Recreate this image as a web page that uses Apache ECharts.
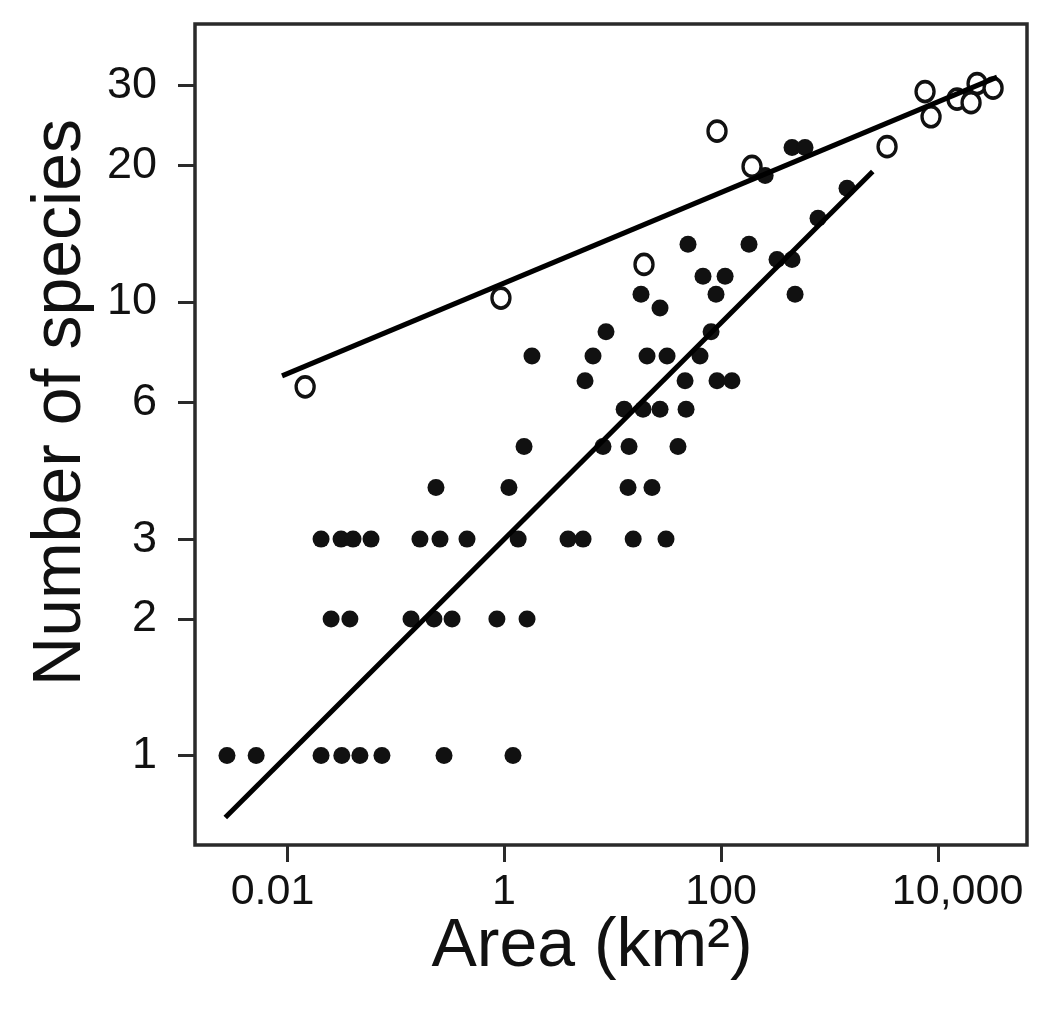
<!DOCTYPE html>
<html>
<head>
<meta charset="utf-8">
<title>Species-area</title>
<script src="https://cdn.jsdelivr.net/npm/echarts@6/dist/echarts.min.js"></script>
<style>
  html, body { margin: 0; padding: 0; background: #fff; }
  #chart { width: 1050px; height: 1010px; }
</style>
</head>
<body>
<div id="chart"></div>
<script>
// filled circles (area km2 / number of species)
var filledArea = [
  0.0028, 0.0052, 0.0206, 0.032, 0.047, 0.075, 0.28, 1.21,
  0.0255, 0.038, 0.139, 0.226, 0.332, 0.86, 1.63,
  0.0206, 0.0315, 0.0406, 0.0595, 0.168, 0.257, 0.456, 1.35, 3.89, 5.35, 15.5, 31.1,
  0.236, 1.11, 13.9, 23.1,
  1.53, 8.17, 14.2, 40.1,
  12.8, 19.1, 27.4, 47.6,
  5.58, 46.6, 91.8, 126,
  1.81, 6.61, 20.8, 31.8, 64,
  8.71, 80.9,
  27.4,
  18.3, 89.9, 481,
  68.2, 109,
  328, 451,
  49.6, 181,
  783, 1449, 255,
  451, 594
];
var filledSpecies = [
  1, 1, 1, 1, 1, 1, 1, 1,
  2, 2, 2, 2, 2, 2, 2,
  3, 3, 3, 3, 3, 3, 3, 3, 3, 3, 3, 3,
  3.9, 3.9, 3.9, 3.9,
  4.8, 4.8, 4.8, 4.8,
  5.8, 5.8, 5.8, 5.8,
  6.7, 6.7, 6.7, 6.7,
  7.6, 7.6, 7.6, 7.6, 7.6,
  8.6, 8.6,
  9.7,
  10.4, 10.4, 10.4,
  11.4, 11.4,
  12.4, 12.4,
  13.4, 13.4,
  15.3, 17.8, 19,
  21.9, 21.9
];
// open circles
var openArea = [0.0147, 0.937, 19.5, 91.8, 193, 3388, 7586, 8616, 14960, 20140, 22870, 32130];
var openSpecies = [6.5, 10.2, 12.1, 23.8, 19.9, 22.0, 29.1, 25.6, 28.0, 27.5, 30.3, 29.6];

// fitted lines (end points)
var upperLineArea = [0.009, 35000];
var upperLineSpecies = [6.87, 31.3];
var lowerLineArea = [0.0027, 2500];
var lowerLineSpecies = [0.73, 19.4];

var xTicks = [0.01, 1, 100, 10000];
var yTicks = [1, 2, 3, 6, 10, 20, 30];

function zip(a, b) {
  return a.map(function (v, i) { return [v, b[i]]; });
}

var font = '"Liberation Sans", Arial, Helvetica, sans-serif';
var chart = echarts.init(document.getElementById('chart'));
chart.setOption({
  animation: false,
  backgroundColor: '#fff',
  grid: {
    left: 195,
    right: 23,
    top: 24,
    bottom: 165,
    show: true,
    borderColor: '#2a2a2a',
    borderWidth: 3.5,
    backgroundColor: 'transparent'
  },
  xAxis: {
    type: 'log',
    logBase: 10,
    min: 0.00142,
    max: 66000,
    name: 'Area (km²)',
    nameLocation: 'middle',
    nameGap: 68,
    nameMoveOverlap: false,
    nameTextStyle: {
      fontSize: 68,
      fontFamily: font,
      color: '#111',
      padding: [0, 38, 0, 0]
    },
    axisLine: { show: false },
    splitLine: { show: false },
    minorTick: { show: false },
    axisTick: {
      show: true,
      length: 17,
      customValues: xTicks,
      lineStyle: { color: '#2a2a2a', width: 3 }
    },
    axisLabel: {
      customValues: xTicks,
      margin: 26,
      fontSize: 43,
      fontFamily: font,
      color: '#111',
      formatter: function (v) {
        if (v < 0.1) return '{l|' + v + '}';
        if (v >= 1000) return '{r|' + v.toLocaleString('en-US') + '}';
        return String(v);
      },
      rich: {
        l: { fontSize: 43, fontFamily: font, color: '#111', padding: [0, 29, 0, 0] },
        r: { fontSize: 43, fontFamily: font, color: '#111', padding: [0, 0, 0, 39] }
      }
    }
  },
  yAxis: {
    type: 'log',
    logBase: 10,
    min: 0.635,
    max: 41,
    name: 'Number of species',
    nameLocation: 'middle',
    nameGap: 100,
    nameMoveOverlap: false,
    nameTextStyle: {
      fontSize: 68,
      fontFamily: font,
      color: '#111',
      padding: [0, 0, 0, 64]
    },
    axisLine: { show: false },
    splitLine: { show: false },
    minorTick: { show: false },
    axisTick: {
      show: true,
      length: 17,
      customValues: yTicks,
      lineStyle: { color: '#2a2a2a', width: 3 }
    },
    axisLabel: {
      customValues: yTicks,
      margin: 38,
      fontSize: 45,
      fontFamily: font,
      color: '#111'
    }
  },
  series: [
    {
      type: 'scatter',
      data: zip(filledArea, filledSpecies),
      symbol: 'circle',
      symbolSize: 17,
      itemStyle: { color: '#111', opacity: 1 }
    },
    {
      type: 'scatter',
      data: zip(openArea, openSpecies),
      symbol: 'circle',
      symbolSize: [18, 20],
      itemStyle: { color: '#fff', borderColor: '#111', borderWidth: 3.5, opacity: 1 }
    },
    {
      type: 'line',
      data: zip(upperLineArea, upperLineSpecies),
      symbol: 'none',
      lineStyle: { color: '#000', width: 5 }
    },
    {
      type: 'line',
      data: zip(lowerLineArea, lowerLineSpecies),
      symbol: 'none',
      lineStyle: { color: '#000', width: 5 }
    }
  ]
});
</script>
</body>
</html>
